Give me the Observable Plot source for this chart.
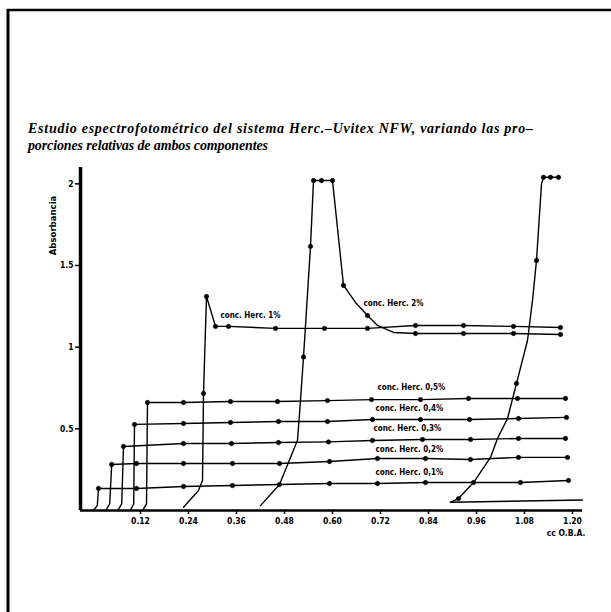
<!DOCTYPE html>
<html><head><meta charset="utf-8">
<script src="https://cdn.jsdelivr.net/npm/d3@7"></script>
<script src="https://cdn.jsdelivr.net/npm/@observablehq/plot@0.6"></script>
<style>
body{margin:0;background:#fff;}
#wrap{position:relative;width:611px;height:612px;overflow:hidden;background:#fff;}
#wrap svg{position:absolute;left:0;top:0;}
</style></head>
<body><div id="wrap"></div>
<script>
const herc01 = [[0.012,0,0],[0.022,0.03,0],[0.025,0.135,1],[0.12,0.135,1],[0.2375,0.147,1],[0.36,0.153,1],[0.4775,0.159,1],[0.6025,0.165,1],[0.7225,0.165,1],[0.8425,0.171,1],[0.9625,0.171,1],[1.08,0.171,1],[1.2,0.184,1]];
const herc02 = [[0.043,0,0],[0.053,0.04,0],[0.058,0.282,1],[0.12,0.288,1],[0.2375,0.288,1],[0.36,0.288,1],[0.4775,0.288,1],[0.6025,0.300,1],[0.7225,0.318,1],[0.8425,0.318,1],[0.955,0.312,1],[1.075,0.325,1],[1.1975,0.325,1]];
const herc03 = [[0.073,0,0],[0.083,0.04,0],[0.0875,0.392,1],[0.2375,0.41,1],[0.3575,0.41,1],[0.475,0.416,1],[0.6,0.42,1],[0.71,0.429,1],[0.835,0.435,1],[0.955,0.435,1],[1.075,0.441,1],[1.1925,0.441,1]];
const herc04 = [[0.104,0,0],[0.113,0.04,0],[0.115,0.527,1],[0.2375,0.533,1],[0.355,0.539,1],[0.475,0.545,1],[0.5975,0.545,1],[0.71,0.557,1],[0.83,0.557,1],[0.9525,0.557,1],[1.075,0.563,1],[1.195,0.57,1]];
const herc05 = [[0.135,0,0],[0.145,0.04,0],[0.1475,0.661,1],[0.2375,0.661,1],[0.355,0.667,1],[0.4725,0.667,1],[0.5975,0.673,1],[0.7075,0.679,1],[0.83,0.679,1],[0.95,0.686,1],[1.0725,0.686,1],[1.1925,0.686,1]];
const herc1 = [[0.2375,0.02,0],[0.275,0.122,0],[0.285,0.184,0],[0.2875,0.717,1],[0.295,1.31,1],[0.3175,1.127,1],[0.35,1.127,1],[0.4675,1.115,1],[0.59,1.115,1],[0.6975,1.115,1],[0.8175,1.133,1],[0.9375,1.133,1],[1.0625,1.127,1],[1.18,1.12,1]];
const herc2 = [[0.43,0.03,0],[0.4775,0.159,0],[0.5225,0.43,0],[0.53,0.674,0],[0.5375,0.94,1],[0.555,1.617,1],[0.5625,2.02,1],[0.5825,2.02,1],[0.61,2.02,1],[0.6375,1.378,1],[0.6675,1.274,0],[0.6975,1.194,1],[0.7225,1.133,0],[0.7625,1.09,0],[0.8175,1.084,1],[0.9375,1.084,1],[1.0625,1.084,1],[1.18,1.078,1]];
const hercX = [[0.905,0.05,0],[0.925,0.073,1],[0.9625,0.171,0],[1.005,0.325,0],[1.0225,0.441,0],[1.0475,0.563,0],[1.07,0.778,1],[1.0975,1.041,0],[1.11,1.286,0],[1.12,1.531,1],[1.1325,2.0,0],[1.1375,2.04,1],[1.155,2.04,1],[1.175,2.04,1]];
const baseRight = [[0.905,0.05],[1.235,0.065]];

const seriesNames = ["0,1","0,2","0,3","0,4","0,5","1","2","x"];
const seriesData = [herc01, herc02, herc03, herc04, herc05, herc1, herc2, hercX];

const seriesLabels = ["conc. Herc. 1%","conc. Herc. 2%","conc. Herc. 0,5%","conc. Herc. 0,4%","conc. Herc. 0,3%","conc. Herc. 0,2%","conc. Herc. 0,1%"];
const labelX = [0.33,0.6875,0.7225,0.7175,0.7125,0.7175,0.7175];
const labelY = [1.194,1.268,0.753,0.625,0.502,0.373,0.233];

const xTicks = [0.12,0.24,0.36,0.48,0.60,0.72,0.84,0.96,1.08,1.20];
const yTicks = [0.5,1,1.5,2];
const titleLines = ["Estudio espectrofotométrico del sistema Herc.–Uvitex NFW, variando las pro–","porciones relativas de ambos componentes"];
const yLabel = "Absorbancia";
const xUnit = "cc O.B.A.";

// ---- build table ----
const rows = [];
seriesData.forEach((s,i)=>s.forEach(([x,y,d])=>rows.push({series:seriesNames[i],x,y,dot:d===1})));
const labels = seriesLabels.map((t,i)=>({t,x:labelX[i],y:labelY[i]}));

const font = "'DejaVu Sans Condensed','DejaVu Sans',sans-serif";
const plot = Plot.plot({
  width: 611, height: 612,
  marginLeft: 80, marginRight: 29, marginTop: 167, marginBottom: 102,
  x: {domain: [-0.02, 1.235]},
  y: {domain: [0, 2.1]},
  style: {background: "transparent", fontFamily: font, color: "black", overflow: "visible"},
  marks: [
    Plot.axisY({ticks: yTicks, tickFormat: d => String(d), tickSize: 5, tickPadding: 2, fontSize: 8.5, fontWeight: "bold", label: null, strokeWidth: 1.5}),
    Plot.axisX({ticks: xTicks, tickFormat: d3.format(".2f"), tickSize: 4, tickPadding: 3, dx: 4, dy: 0, fontSize: 8.5, fontWeight: "bold", label: null, strokeWidth: 1.5}),
    Plot.ruleX([-0.02], {y1: 0, y2: 2.1, stroke: "black", strokeWidth: 3.5}),
    Plot.ruleY([0], {x1: -0.02, x2: 1.235, stroke: "black", strokeWidth: 2.5}),
    Plot.line(baseRight, {x: d => d[0], y: d => d[1], stroke: "black", strokeWidth: 1.5}),
    Plot.line(rows, {x: "x", y: "y", z: "series", stroke: "black", strokeWidth: 1.4, curve: "linear"}),
    Plot.dot(rows.filter(d => d.dot), {x: "x", y: "y", r: 2.2, fill: "black", stroke: "black", strokeWidth: 0.6}),
    Plot.text(labels, {x: "x", y: "y", text: "t", textAnchor: "start", fontSize: 8, fontWeight: "bold", fill: "black"}),
    Plot.text([xUnit], {x: 1.2425, y: 0, text: d => d, textAnchor: "end", dy: 23, fontSize: 8.5, fontWeight: "bold", fill: "black"}),
    Plot.text([yLabel], {x: -0.09, y: 1.745, text: d => d, rotate: -90, fontSize: 9.5, fontWeight: "bold", fill: "black", letterSpacing: 0.5})
  ]
});
const wrap = document.getElementById("wrap");
wrap.appendChild(plot);

// ---- page frame and title ----
const ov = d3.select(wrap).append("svg").attr("width", 611).attr("height", 612).style("pointer-events","none");
ov.append("line").attr("x1", 7).attr("x2", 611).attr("y1", 10).attr("y2", 10).attr("stroke","black").attr("stroke-width",2.5);
ov.append("line").attr("x1", 8).attr("x2", 8).attr("y1", 9).attr("y2", 612).attr("stroke","black").attr("stroke-width",3);
const tf = "'Liberation Serif','DejaVu Serif',serif";
ov.append("text").attr("x", 28).attr("y", 133).attr("font-family", tf).attr("font-style","italic").attr("font-weight","bold")
  .attr("font-size", 14).attr("textLength", 505).attr("lengthAdjust","spacing").text(titleLines[0]);
ov.append("text").attr("x", 28).attr("y", 150).attr("font-family", tf).attr("font-style","italic").attr("font-weight","bold")
  .attr("font-size", 14).attr("textLength", 240).attr("lengthAdjust","spacing").text(titleLines[1]);
</script></body></html>
